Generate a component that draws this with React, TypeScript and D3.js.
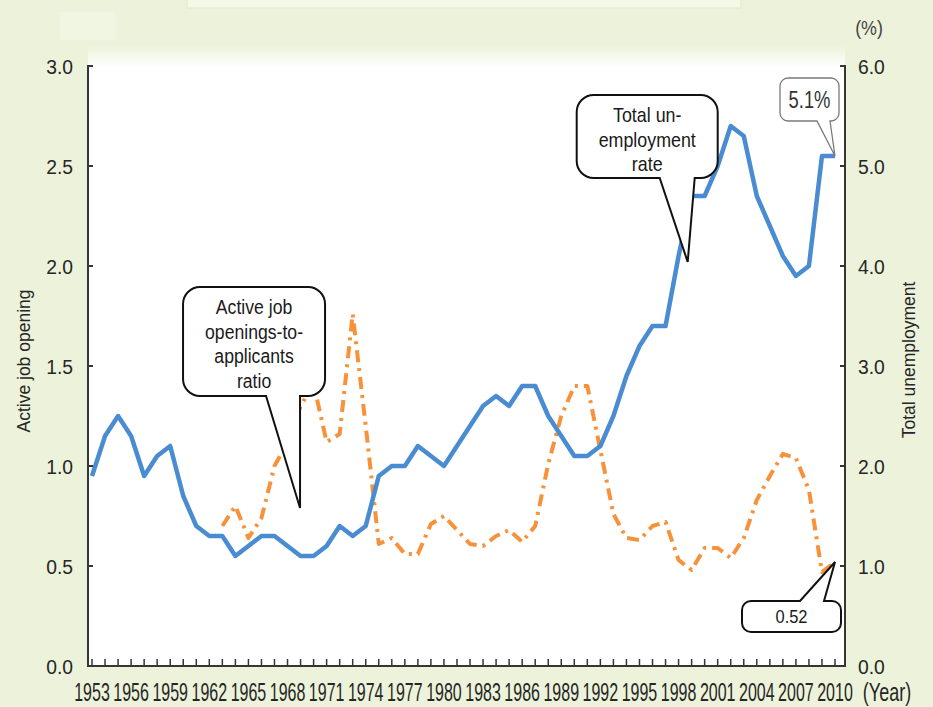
import React from 'react';
import * as d3 from 'd3';

// Total unemployment rate (%), right axis
const years = [
  1953, 1954, 1955, 1956, 1957, 1958, 1959, 1960, 1961, 1962,
  1963, 1964, 1965, 1966, 1967, 1968, 1969, 1970, 1971, 1972,
  1973, 1974, 1975, 1976, 1977, 1978, 1979, 1980, 1981, 1982,
  1983, 1984, 1985, 1986, 1987, 1988, 1989, 1990, 1991, 1992,
  1993, 1994, 1995, 1996, 1997, 1998, 1999, 2000, 2001, 2002,
  2003, 2004, 2005, 2006, 2007, 2008, 2009, 2010,
];
const unemploymentRate = [
  1.9, 2.3, 2.5, 2.3, 1.9, 2.1, 2.2, 1.7, 1.4, 1.3,
  1.3, 1.1, 1.2, 1.3, 1.3, 1.2, 1.1, 1.1, 1.2, 1.4,
  1.3, 1.4, 1.9, 2.0, 2.0, 2.2, 2.1, 2.0, 2.2, 2.4,
  2.6, 2.7, 2.6, 2.8, 2.8, 2.5, 2.3, 2.1, 2.1, 2.2,
  2.5, 2.9, 3.2, 3.4, 3.4, 4.1, 4.7, 4.7, 5.0, 5.4,
  5.3, 4.7, 4.4, 4.1, 3.9, 4.0, 5.1, 5.1,
];

// Active job openings-to-applicants ratio, left axis
const ratioYears = [
  1963, 1964, 1965, 1966, 1967, 1968, 1969, 1970, 1971, 1972,
  1973, 1974, 1975, 1976, 1977, 1978, 1979, 1980, 1981, 1982,
  1983, 1984, 1985, 1986, 1987, 1988, 1989, 1990, 1991, 1992,
  1993, 1994, 1995, 1996, 1997, 1998, 1999, 2000, 2001, 2002,
  2003, 2004, 2005, 2006, 2007, 2008, 2009, 2010,
];
const jobRatio = [
  0.70, 0.80, 0.64, 0.74, 1.00, 1.12, 1.30, 1.41, 1.12, 1.16,
  1.76, 1.20, 0.61, 0.64, 0.56, 0.56, 0.71, 0.75, 0.68, 0.61,
  0.60, 0.65, 0.68, 0.62, 0.70, 1.01, 1.25, 1.40, 1.40, 1.08,
  0.76, 0.64, 0.63, 0.70, 0.72, 0.53, 0.48, 0.59, 0.59, 0.54,
  0.64, 0.83, 0.95, 1.06, 1.04, 0.88, 0.47, 0.52,
];

const yearTickLabels = [
  1953, 1956, 1959, 1962, 1965, 1968, 1971, 1974, 1977, 1980,
  1983, 1986, 1989, 1992, 1995, 1998, 2001, 2004, 2007, 2010,
];
const leftTicks = [0, 0.5, 1.0, 1.5, 2.0, 2.5, 3.0];
const rightTicks = [0, 1, 2, 3, 4, 5, 6];

const W = 933;
const H = 707;
const frame = { left: 88, right: 845, top: 66, bottom: 666 };

const x = d3.scaleLinear().domain([1953, 2010]).range([92, 835]);
const yL = d3.scaleLinear().domain([0, 3]).range([frame.bottom, frame.top]);
const yR = d3.scaleLinear().domain([0, 6]).range([frame.bottom, frame.top]);

const FONT = "'Liberation Sans', Arial, Helvetica, sans-serif";
const BG = '#edf3db';
const BLUE = '#4a8cd2';
const ORANGE = '#f7923a';
const AXIS = '#363636';

type TProps = {
  x: number;
  y: number;
  size: number;
  sx?: number;
  anchor?: 'start' | 'middle' | 'end';
  fill?: string;
  rotate?: number;
  children: React.ReactNode;
};

function T({ x, y, size, sx = 1, anchor = 'middle', fill = '#262626', rotate = 0, children }: TProps) {
  return (
    <text
      transform={`translate(${x},${y}) rotate(${rotate}) scale(${sx},1)`}
      fontSize={size}
      textAnchor={anchor}
      fill={fill}
      fontFamily={FONT}
    >
      {children}
    </text>
  );
}

// Rounded box with a triangular pointer on its bottom or top edge
function calloutPath(
  x0: number, y0: number, x1: number, y1: number, r: number,
  side: 'bottom' | 'top', a: number, b: number, tx: number, ty: number,
) {
  const p = d3.path();
  p.moveTo(x0 + r, y0);
  if (side === 'top') {
    p.lineTo(a, y0);
    p.lineTo(tx, ty);
    p.lineTo(b, y0);
  }
  p.lineTo(x1 - r, y0);
  p.arcTo(x1, y0, x1, y0 + r, r);
  p.lineTo(x1, y1 - r);
  p.arcTo(x1, y1, x1 - r, y1, r);
  if (side === 'bottom') {
    p.lineTo(b, y1);
    p.lineTo(tx, ty);
    p.lineTo(a, y1);
  }
  p.lineTo(x0 + r, y1);
  p.arcTo(x0, y1, x0, y1 - r, r);
  p.lineTo(x0, y0 + r);
  p.arcTo(x0, y0, x0 + r, y0, r);
  p.closePath();
  return p.toString();
}

type Callout = {
  lines: string[];
  year: number;
  value: number;
  axis: 'L' | 'R';
  box: [number, number, number, number]; // dx0, dy0, dx1, dy1 from the pointer tip
  base: [number, number]; // pointer base, dx from tip
  side: 'bottom' | 'top';
  r: number;
  stroke: string;
  strokeWidth: number;
  size: number;
  sx: number;
  lineGap: number;
  firstBaseline: number; // from box top
  fill: string;
};

const callouts: Callout[] = [
  {
    lines: ['Total un-', 'employment', 'rate'],
    year: 1998.7, value: 4.04, axis: 'R',
    box: [-111, -167, 30, -84], base: [-28, 7], side: 'bottom', r: 17,
    stroke: '#111', strokeWidth: 2, size: 21, sx: 0.85, lineGap: 24.5, firstBaseline: 27, fill: '#1a1a1a',
  },
  {
    lines: ['Active job', 'openings-to-', 'applicants', 'ratio'],
    year: 1968.96, value: 0.79, axis: 'L',
    box: [-117, -221, 25, -112], base: [-34, 0], side: 'bottom', r: 17,
    stroke: '#111', strokeWidth: 2, size: 21, sx: 0.84, lineGap: 24.7, firstBaseline: 27, fill: '#1a1a1a',
  },
  {
    lines: ['5.1%'],
    year: 2010, value: 5.1, axis: 'R',
    box: [-55, -78, 4, -35], base: [-18, -5], side: 'bottom', r: 8,
    stroke: '#7a7a7a', strokeWidth: 1.3, size: 23, sx: 0.8, lineGap: 0, firstBaseline: 30, fill: '#333',
  },
  {
    lines: ['0.52'],
    year: 2010, value: 0.52, axis: 'L',
    box: [-93, 39, 6, 70], base: [-35, -11], side: 'top', r: 9,
    stroke: '#111', strokeWidth: 2, size: 18.5, sx: 0.89, lineGap: 0, firstBaseline: 22, fill: '#1a1a1a',
  },
];

export default function App() {
  const unemployment: [number, number][] = years.map((yr, i) => [yr, unemploymentRate[i]]);
  const ratio: [number, number][] = ratioYears.map((yr, i) => [yr, jobRatio[i]]);

  const lineR = d3.line<[number, number]>().x((d) => x(d[0])).y((d) => yR(d[1]));
  const lineL = d3.line<[number, number]>().x((d) => x(d[0])).y((d) => yL(d[1]));

  return (
    <svg
      width={W}
      height={H}
      viewBox={`0 0 ${W} ${H}`}
      style={{ position: 'absolute', left: 0, top: 0, display: 'block' }}
    >
      <defs>
        <linearGradient id="topFade" x1="0" y1="0" x2="0" y2="1">
          <stop offset="0" stopColor="#ffffff" stopOpacity="0" />
          <stop offset="1" stopColor="#ffffff" stopOpacity="1" />
        </linearGradient>
      </defs>

      {/* page background */}
      <rect x={0} y={0} width={W} height={H} fill={BG} />
      <rect x={187} y={-6} width={554} height={14} fill="#f3f8e7" stroke="#e2eacf" strokeWidth={1} />
      <rect x={60} y={12} width={55} height={28} fill="#f1f6e3" />

      {/* plot area */}
      <rect x={frame.left} y={46} width={frame.right - frame.left} height={22} fill="url(#topFade)" />
      <rect x={frame.left} y={frame.top} width={frame.right - frame.left} height={frame.bottom - frame.top} fill="#ffffff" />

      {/* series */}
      <path
        d={lineL(ratio) || ''}
        fill="none"
        stroke={ORANGE}
        strokeWidth={4}
        strokeDasharray="12 6 3 6"
        strokeLinejoin="round"
      />
      <path
        d={lineR(unemployment) || ''}
        fill="none"
        stroke={BLUE}
        strokeWidth={4.5}
        strokeLinejoin="round"
      />

      {/* axes */}
      <g stroke={AXIS} strokeWidth={2} fill="none">
        <line x1={frame.left} y1={frame.top - 1} x2={frame.left} y2={frame.bottom} />
        <line x1={frame.right} y1={frame.top - 1} x2={frame.right} y2={frame.bottom} />
        <line x1={frame.left - 1} y1={frame.bottom} x2={frame.right + 1} y2={frame.bottom} />
        {leftTicks.map((v) => (
          <line key={`lt${v}`} x1={frame.left} x2={frame.left + 5} y1={yL(v)} y2={yL(v)} />
        ))}
        {rightTicks.map((v) => (
          <line key={`rt${v}`} x1={frame.right - 5} x2={frame.right} y1={yR(v)} y2={yR(v)} />
        ))}
        {years.map((yr) => (
          <line key={`xt${yr}`} x1={x(yr)} x2={x(yr)} y1={frame.bottom} y2={frame.bottom - 7} strokeWidth={1.5} />
        ))}
      </g>

      {/* tick labels */}
      {leftTicks.map((v) => (
        <T key={`ll${v}`} x={73} y={yL(v) + 7.5} size={21} sx={0.92} anchor="end">
          {v.toFixed(1)}
        </T>
      ))}
      {rightTicks.map((v) => (
        <T key={`rl${v}`} x={858} y={yR(v) + 7.5} size={21} sx={0.92} anchor="start">
          {v.toFixed(1)}
        </T>
      ))}
      {yearTickLabels.map((yr) => (
        <T key={`xl${yr}`} x={x(yr)} y={701} size={25} sx={0.64}>
          {yr}
        </T>
      ))}
      <T x={887} y={701} size={25} sx={0.72}>
        (Year)
      </T>
      <T x={869} y={35} size={21} sx={0.85} fill="#444">
        (%)
      </T>

      {/* axis titles */}
      <T x={30} y={361} size={17.5} rotate={-90}>
        Active job opening
      </T>
      <T x={915} y={360} size={17.5} rotate={-90}>
        Total unemployment
      </T>

      {/* callouts */}
      {callouts.map((c, i) => {
        const tx = x(c.year);
        const ty = c.axis === 'L' ? yL(c.value) : yR(c.value);
        const [dx0, dy0, dx1, dy1] = c.box;
        const bx0 = tx + dx0;
        const by0 = ty + dy0;
        const bx1 = tx + dx1;
        const by1 = ty + dy1;
        const cx = (bx0 + bx1) / 2;
        return (
          <g key={`co${i}`}>
            <path
              d={calloutPath(bx0, by0, bx1, by1, c.r, c.side, tx + c.base[0], tx + c.base[1], tx, ty)}
              fill="#ffffff"
              stroke={c.stroke}
              strokeWidth={c.strokeWidth}
              strokeLinejoin="miter"
            />
            {c.lines.map((ln, j) => (
              <T key={j} x={cx} y={by0 + c.firstBaseline + j * c.lineGap} size={c.size} sx={c.sx} fill={c.fill}>
                {ln}
              </T>
            ))}
          </g>
        );
      })}
    </svg>
  );
}
